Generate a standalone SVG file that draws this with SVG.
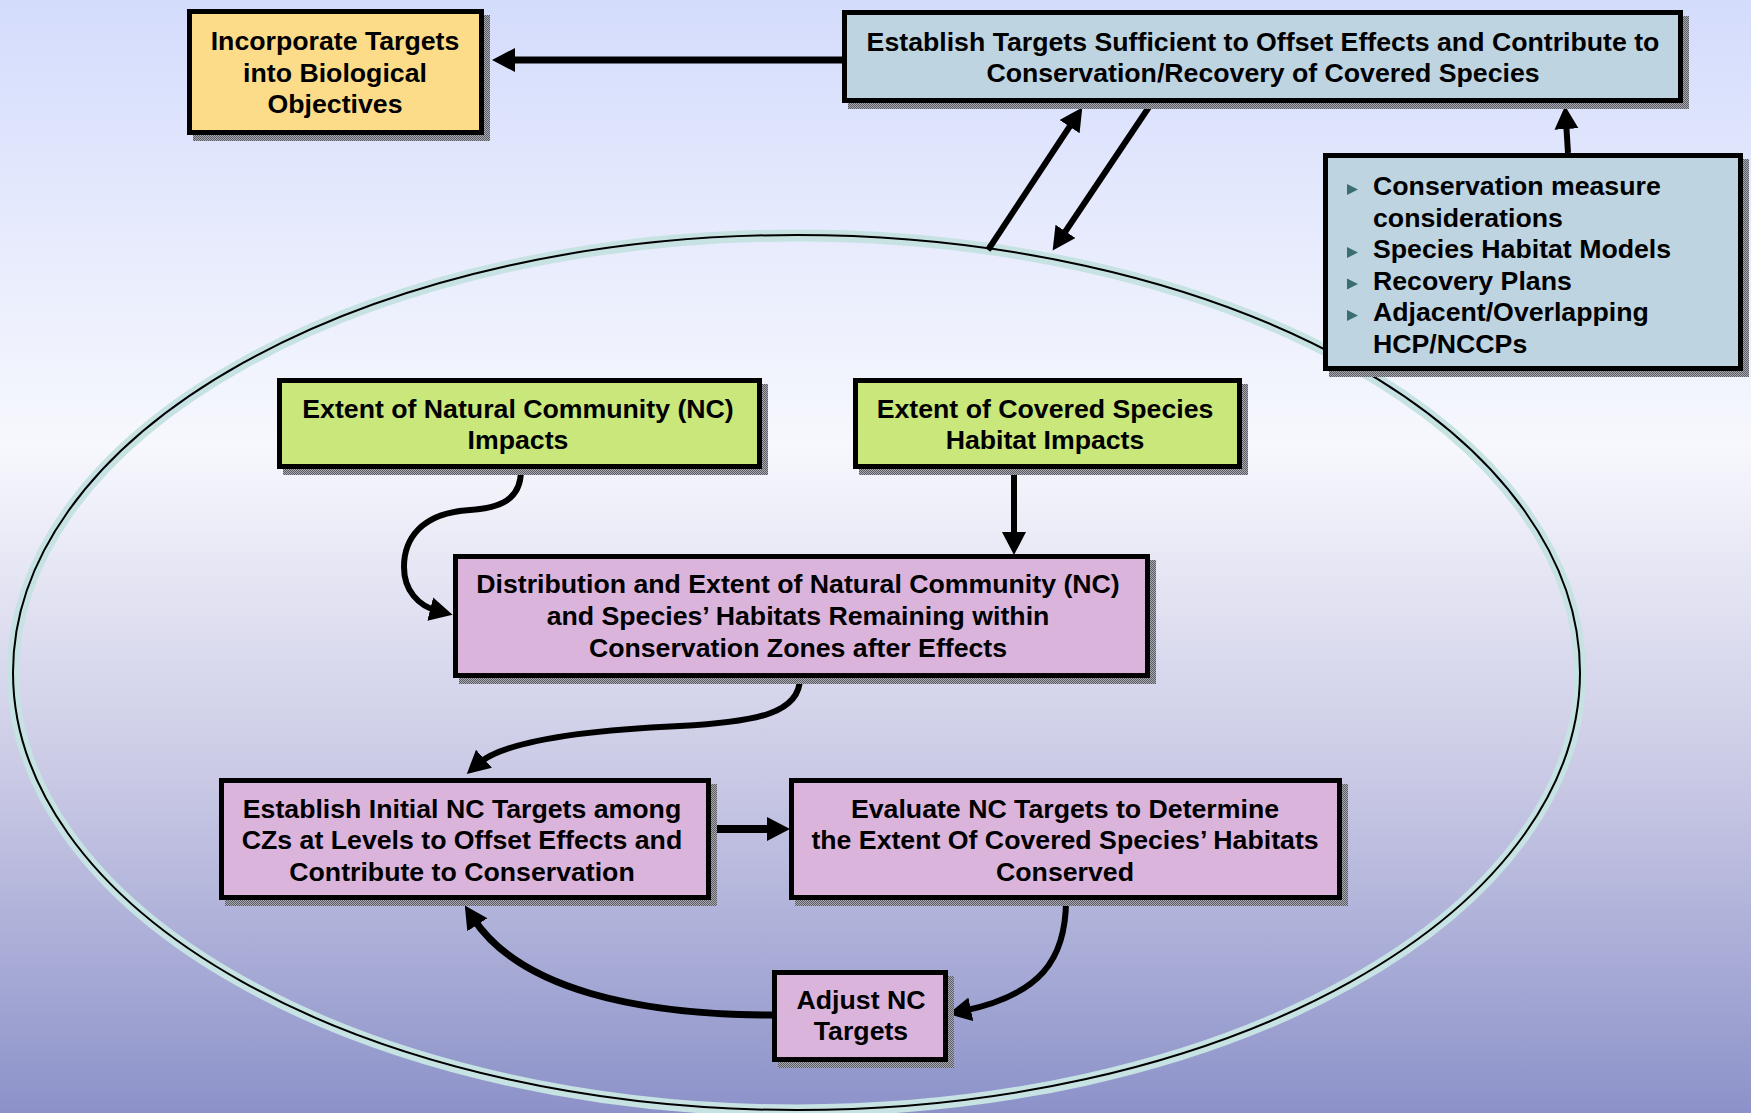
<svg xmlns="http://www.w3.org/2000/svg" width="1751" height="1113" viewBox="0 0 1751 1113">
<defs>
<linearGradient id="bg" x1="0" y1="0" x2="0" y2="1">
<stop offset="0" stop-color="#d4dcfc"/>
<stop offset="0.4" stop-color="#f7f8fd"/>
<stop offset="0.7" stop-color="#c9c9e5"/>
<stop offset="1" stop-color="#8c92c9"/>
</linearGradient>
<pattern id="hatch" width="2" height="2" patternUnits="userSpaceOnUse">
<rect width="2" height="2" fill="#a8a8b0"/>
<rect width="1" height="1" fill="#5c5c64"/>
<rect x="1" y="1" width="1" height="1" fill="#5c5c64"/>
</pattern>
<marker id="ah" markerUnits="userSpaceOnUse" markerWidth="26" markerHeight="26" refX="8" refY="12" orient="auto">
<path d="M0,0 L23,12 L0,24 z" fill="#000"/>
</marker>
<style>
.box{stroke:#000;stroke-width:5}
.shadow{fill:url(#hatch)}
.yellow{fill:#fcdc88}
.blue{fill:#bed4e0}
.green{fill:#c9e77a}
.purple{fill:#dbb4dc}
.t{font-family:"Liberation Sans",Arial,sans-serif;font-weight:bold;font-size:26.7px;fill:#000;text-anchor:middle}
.tl{text-anchor:start}
.c{fill:none;stroke:#000;stroke-width:6;marker-end:url(#ah)}
.bul{fill:#3a6e70}
</style>
</defs>
<rect width="1751" height="1113" fill="url(#bg)"/>
<g id="boundary">
<ellipse cx="796.5" cy="673" rx="783.5" ry="437.5" fill="none" stroke="#c6e2e3" stroke-width="12"/>
<ellipse cx="796.5" cy="672.5" rx="783.5" ry="437.5" fill="none" stroke="#000" stroke-width="2"/>
</g>
<g id="connectors">
<path class="c" d="M842,60 L507,60" style="stroke-width:7"/>
<path class="c" d="M1568,153 L1566,121"/>
<path class="c" d="M988,250 L1074,120"/>
<path class="c" d="M1149,107 L1061,238"/>
<path class="c" d="M521,470 C521,500 500,508 470,510 C420,513 404,540 404,567 C404,590 418,606 438,611"/>
<path class="c" d="M1014,469 L1014,540"/>
<path class="c" d="M800,678 C800,712 760,722 680,726 C590,730 505,740 478,764"/>
<path class="c" d="M711,829 L775,829" style="stroke-width:8"/>
<path class="c" d="M1066,900 C1066,960 1040,995 963,1011"/>
<path class="c" d="M772,1015 C640,1015 520,990 473,918" style="stroke-width:7"/>
</g>
<g id="incorporate">
<rect class="shadow" x="193" y="15" width="297" height="126"/>
<rect class="box yellow" x="189.5" y="11.5" width="292" height="121"/>
<text class="t" x="335" y="50">Incorporate Targets</text>
<text class="t" x="335" y="82">into Biological</text>
<text class="t" x="335" y="113">Objectives</text>
</g>
<g id="establish-targets">
<rect class="shadow" x="848" y="16" width="841" height="93"/>
<rect class="box blue" x="844.5" y="12.5" width="836" height="88"/>
<text class="t" x="1263" y="51">Establish Targets Sufficient to Offset Effects and Contribute to</text>
<text class="t" x="1263" y="82">Conservation/Recovery of Covered Species</text>
</g>
<g id="considerations">
<rect class="shadow" x="1329" y="159" width="420" height="218"/>
<rect class="box blue" x="1325.5" y="155.5" width="415" height="213"/>
<path class="bul" d="M1347,184 L1358,189.5 L1347,195 z"/>
<path class="bul" d="M1347,247 L1358,252.5 L1347,258 z"/>
<path class="bul" d="M1347,278.5 L1358,284 L1347,289.5 z"/>
<path class="bul" d="M1347,310 L1358,315.5 L1347,321 z"/>
<text class="t tl" x="1373" y="195">Conservation measure</text>
<text class="t tl" x="1373" y="226.5">considerations</text>
<text class="t tl" x="1373" y="258">Species Habitat Models</text>
<text class="t tl" x="1373" y="289.5">Recovery Plans</text>
<text class="t tl" x="1373" y="321">Adjacent/Overlapping</text>
<text class="t tl" x="1373" y="352.5">HCP/NCCPs</text>
</g>
<g id="nc-impacts">
<rect class="shadow" x="283" y="384" width="485" height="91"/>
<rect class="box green" x="279.5" y="380.5" width="480" height="86"/>
<text class="t" x="518" y="418">Extent of Natural Community (NC)</text>
<text class="t" x="518" y="449">Impacts</text>
</g>
<g id="species-impacts">
<rect class="shadow" x="859" y="384" width="389" height="91"/>
<rect class="box green" x="855.5" y="380.5" width="384" height="86"/>
<text class="t" x="1045" y="418">Extent of Covered Species</text>
<text class="t" x="1045" y="449">Habitat Impacts</text>
</g>
<g id="distribution">
<rect class="shadow" x="459" y="560" width="697" height="124"/>
<rect class="box purple" x="455.5" y="556.5" width="692" height="119"/>
<text class="t" x="798" y="593">Distribution and Extent of Natural Community (NC)</text>
<text class="t" x="798" y="625">and Species’ Habitats Remaining within</text>
<text class="t" x="798" y="657">Conservation Zones after Effects</text>
</g>
<g id="initial-targets">
<rect class="shadow" x="225" y="784" width="492" height="122"/>
<rect class="box purple" x="221.5" y="780.5" width="487" height="117"/>
<text class="t" x="462" y="818">Establish Initial NC Targets among</text>
<text class="t" x="462" y="849">CZs at Levels to Offset Effects and</text>
<text class="t" x="462" y="881">Contribute to Conservation</text>
</g>
<g id="evaluate">
<rect class="shadow" x="795" y="784" width="553" height="122"/>
<rect class="box purple" x="791.5" y="780.5" width="548" height="117"/>
<text class="t" x="1065" y="818">Evaluate NC Targets to Determine</text>
<text class="t" x="1065" y="849">the Extent Of Covered Species’ Habitats</text>
<text class="t" x="1065" y="881">Conserved</text>
</g>
<g id="adjust">
<rect class="shadow" x="778" y="976" width="176" height="92"/>
<rect class="box purple" x="774.5" y="972.5" width="171" height="87"/>
<text class="t" x="861" y="1009">Adjust NC</text>
<text class="t" x="861" y="1040">Targets</text>
</g>
</svg>
